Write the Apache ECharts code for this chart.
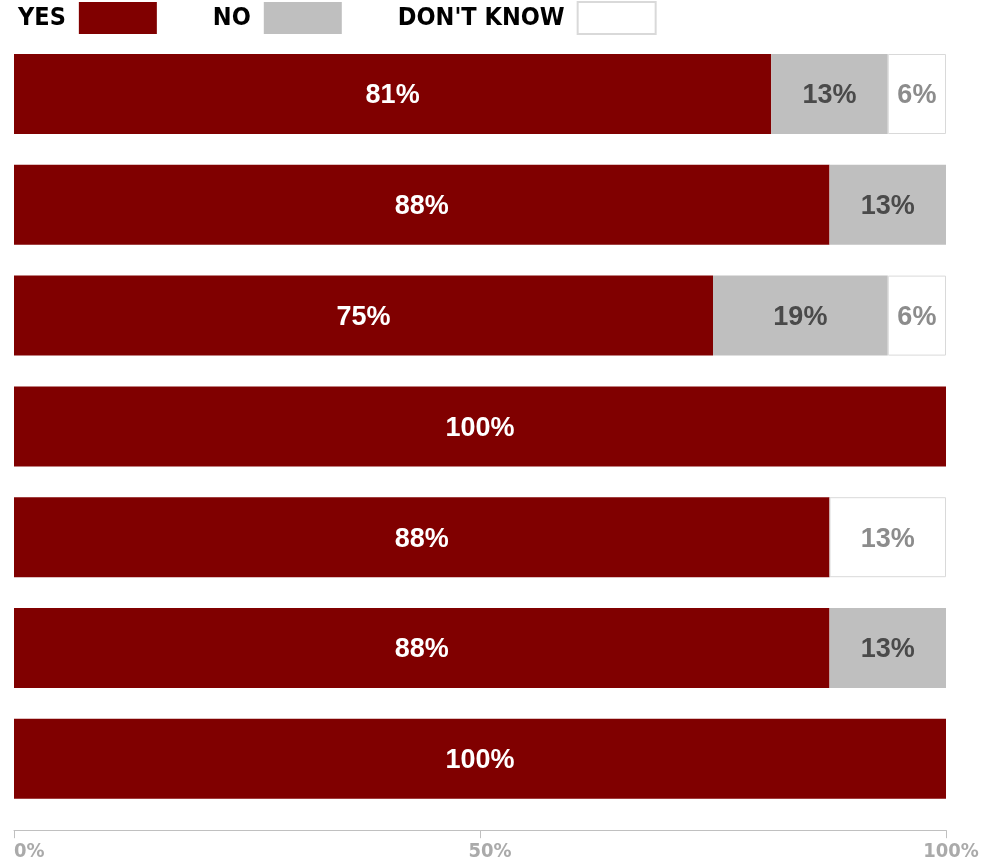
<!DOCTYPE html>
<html>
<head>
<meta charset="utf-8">
<script src="https://cdn.jsdelivr.net/npm/echarts@6/dist/echarts.min.js"></script>
<style>
html,body{margin:0;padding:0;background:#fff;}
#chart{width:994px;height:863px;}
</style>
</head>
<body>
<div id="chart"></div>
<script>
const categories = ['Q1', 'Q2', 'Q3', 'Q4', 'Q5', 'Q6', 'Q7'];
const yesValues = [81.25, 87.5, 75, 100, 87.5, 87.5, 100];
const noValues = [12.5, 12.5, 18.75, 0, 0, 12.5, 0];
const dontKnowValues = [6.25, 0, 6.25, 0, 12.5, 0, 0];
const tickValues = [0, 50, 100];

const condFont = '"Liberation Sans Narrow", "DejaVu Sans Condensed", "Roboto Condensed", sans-serif';
const labelFont = '"Liberation Sans", Arial, sans-serif';

function clean(arr) { return arr.map(v => v === 0 ? '-' : v); }
function fmt(p) { return (typeof p.value === 'number' && p.value > 0) ? Math.round(p.value) + '%' : ''; }

function makeSeries(name, data, color, labelColor, border) {
  return {
    name: name,
    type: 'bar',
    stack: 'total',
    barWidth: 80,
    data: clean(data),
    itemStyle: border ? { color: color, borderColor: '#d9d9d9', borderWidth: 1 } : { color: color },
    label: {
      show: true,
      position: 'inside',
      offset: [0, 2],
      formatter: fmt,
      color: labelColor,
      fontFamily: labelFont,
      fontWeight: 'bold',
      fontSize: 27
    },
    emphasis: { disabled: true },
    animation: false
  };
}

const axisRich = {
  a: { color: '#aaaaaa', fontFamily: condFont, fontWeight: 'bold', fontSize: 20 },
  m: { color: '#aaaaaa', fontFamily: condFont, fontWeight: 'bold', fontSize: 20, padding: [0, 0, 0, 20] },
  e: { color: '#aaaaaa', fontFamily: condFont, fontWeight: 'bold', fontSize: 20, padding: [0, 0, 0, 10] }
};

const chart = echarts.init(document.getElementById('chart'), null, { renderer: 'canvas' });
chart.setOption({
  animation: false,
  legend: {
    left: 13,
    top: -4,
    align: 'right',
    itemWidth: 78,
    itemHeight: 32,
    itemGap: 56,
    icon: 'rect',
    selectedMode: false,
    textStyle: {
      fontFamily: condFont,
      fontWeight: 'bold',
      fontSize: 25,
      color: '#000',
      padding: [0, 8, 0, 0]
    },
    data: ['YES', 'NO', "DON'T KNOW"]
  },
  grid: { left: 14, right: 48, top: 38.6, bottom: 48.8, containLabel: false },
  xAxis: {
    type: 'value',
    min: 0,
    max: 100,
    interval: 50,
    offset: 16,
    splitLine: { show: false },
    axisLine: { show: true, lineStyle: { color: '#c0c0c0', width: 1 } },
    axisTick: { show: true, length: 8, lineStyle: { color: '#c0c0c0' } },
    axisLabel: {
      formatter: v => {
        if (!tickValues.includes(v)) return '';
        if (v === 0) return '{a|' + v + '%}';
        if (v === 100) return '{e|' + v + '%}';
        return '{m|' + v + '%}';
      },
      rich: axisRich,
      margin: 12,
      alignMinLabel: 'left',
      alignMaxLabel: 'center'
    }
  },
  yAxis: {
    type: 'category',
    data: categories,
    inverse: true,
    show: false
  },
  series: [
    makeSeries('YES', yesValues, '#800000', '#ffffff', false),
    makeSeries('NO', noValues, '#bfbfbf', '#4a4a4a', false),
    makeSeries("DON'T KNOW", dontKnowValues, '#ffffff', '#8c8c8c', true)
  ]
});
</script>
</body>
</html>
